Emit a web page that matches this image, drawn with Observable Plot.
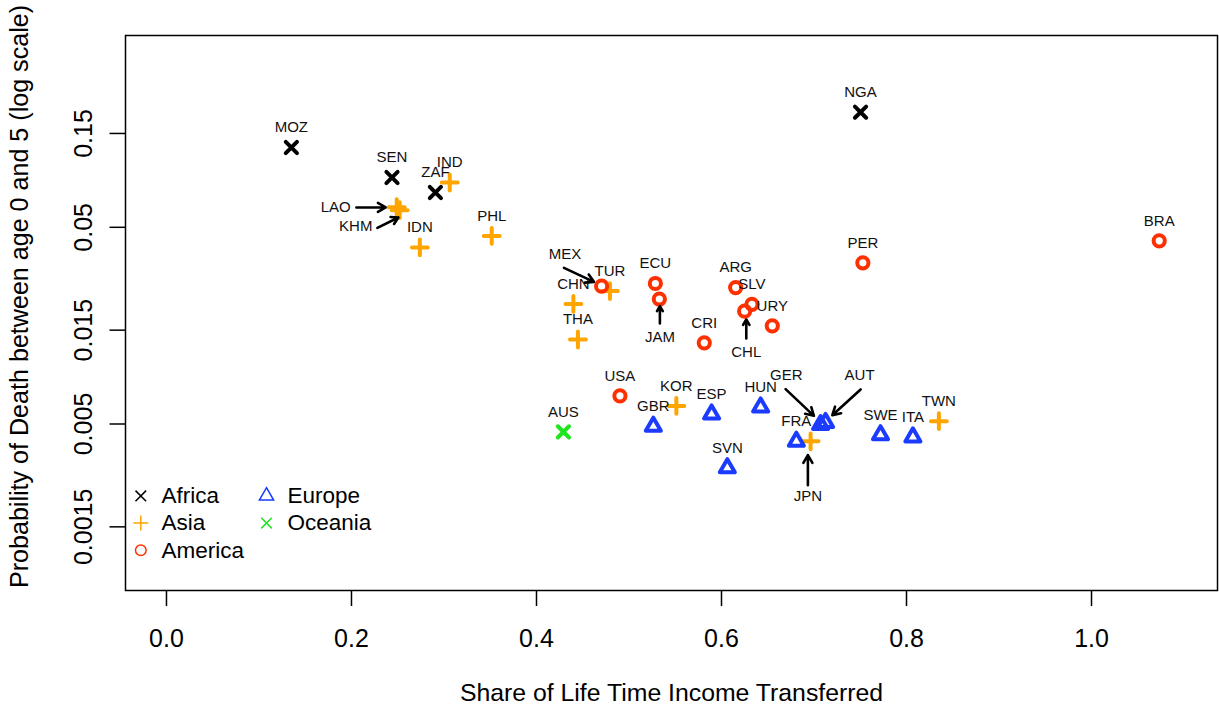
<!DOCTYPE html>
<html><head><meta charset="utf-8">
<script src="https://cdn.jsdelivr.net/npm/d3@7"></script>
<script src="https://cdn.jsdelivr.net/npm/@observablehq/plot@0.6"></script>
<style>body{margin:0;background:#fff} #chart svg{display:block}</style>
</head><body><div id="chart"></div>
<script>
// ---- data ----
const codes   = ["MOZ","SEN","ZAF","NGA","IND","LAO","KHM","IDN","PHL","CHN","TUR","THA","KOR","TWN","JPN","MEX","ECU","JAM","CRI","ARG","SLV","CHL","URY","PER","BRA","USA","GBR","ESP","HUN","SVN","FRA","GER","AUT","SWE","ITA","AUS"];
const regions = ["Africa","Africa","Africa","Africa","Asia","Asia","Asia","Asia","Asia","Asia","Asia","Asia","Asia","Asia","Asia","America","America","America","America","America","America","America","America","America","America","America","Europe","Europe","Europe","Europe","Europe","Europe","Europe","Europe","Europe","Oceania"];
const shares  = [0.135,0.2438,0.2907,0.7503,0.3062,0.2489,0.2521,0.2739,0.3516,0.4399,0.4794,0.4448,0.5512,0.8350,0.6963,0.4704,0.5285,0.5328,0.5814,0.6153,0.6329,0.6250,0.6549,0.7528,1.0732,0.4902,0.5263,0.5893,0.6423,0.6063,0.6809,0.7071,0.7125,0.7719,0.8069,0.4291];
const deaths  = [0.1273,0.0896,0.0752,0.1925,0.0845,0.0633,0.0611,0.0395,0.0452,0.0204,0.0237,0.01345,0.00618,0.00517,0.00408,0.0251,0.0259,0.0216,0.01293,0.0247,0.0203,0.01874,0.01578,0.0330,0.0427,0.00695,0.00486,0.00561,0.00609,0.00299,0.00408,0.00496,0.00508,0.00440,0.00429,0.00456];

// annotated labels with arrows (data coordinates)
const annoCodes   = ["LAO","KHM","MEX","JAM","CHL","GER","AUT","JPN"];
const annoLabelX  = [0.1829,0.2046,0.4308,0.5334,0.6268,0.6700,0.7493,0.6934];
const annoLabelY  = [0.0633,0.0507,0.0365,0.01387,0.01164,0.00883,0.00883,0.002157];
const arrowX1     = [0.2053,0.2280,0.4297,0.5334,0.6268,0.6693,0.7504,0.6934];
const arrowY1     = [0.0631,0.0497,0.0311,0.01622,0.01361,0.00752,0.00749,0.002444];
const arrowX2     = [0.2370,0.2507,0.4621,0.5334,0.6268,0.6999,0.7198,0.6934];
const arrowY2     = [0.0631,0.0561,0.0264,0.01987,0.01700,0.00550,0.00554,0.003472];

const regionNames  = ["Africa","Asia","America","Europe","Oceania"];
const regionColors = ["#000000","#ffa500","#ff3000","#1b3bff","#1ee61e"];
const xTicks = [0,0.2,0.4,0.6,0.8,1.0];
const yTicks = [0.0015,0.005,0.015,0.05,0.15];
const yTickLabels = ["0.0015","0.005","0.015","0.05","0.15"];

// ---- tables ----
const points = codes.map((c,i)=>({code:c, region:regions[i], x:shares[i], y:deaths[i]}));
const annos = annoCodes.map((c,i)=>({code:c, lx:annoLabelX[i], ly:annoLabelY[i], x1:arrowX1[i], y1:arrowY1[i], x2:arrowX2[i], y2:arrowY2[i]}));
const plainLabels = points.filter(p => !annoCodes.includes(p.code));

// ---- R-like symbols ----
const R = s => Math.sqrt(s/Math.PI);
const symTimes = {draw(ctx,s){const r=R(s);ctx.moveTo(-r,-r);ctx.lineTo(r,r);ctx.moveTo(-r,r);ctx.lineTo(r,-r);}};
const symPlus = {draw(ctx,s){const r=R(s)*Math.SQRT2;ctx.moveTo(-r,0);ctx.lineTo(r,0);ctx.moveTo(0,-r);ctx.lineTo(0,r);}};
const symCircle = {draw(ctx,s){const r=R(s);ctx.moveTo(r,0);ctx.arc(0,0,r,0,2*Math.PI);ctx.closePath();}};
const symTri = {draw(ctx,s){const r=R(s);ctx.moveTo(0,-1.5551*r);ctx.lineTo(1.3468*r,0.7776*r);ctx.lineTo(-1.3468*r,0.7776*r);ctx.closePath();}};
const regionSymbols = {Africa:symTimes, Asia:symPlus, America:symCircle, Europe:symTri, Oceania:symTimes};

const W = 1219, H = 711;
const mL = 125, mR = 2, mT = 35, mB = 121;

const marks = [];
regionNames.forEach((rg,i)=>{
  marks.push(Plot.dot(points.filter(p=>p.region===rg), {x:"x", y:"y", symbol: regionSymbols[rg], r:5.6, fill:"none", stroke: regionColors[i], strokeWidth:4, strokeLinecap:"round", strokeLinejoin:"round"}));
});
marks.push(Plot.text(plainLabels, {x:"x", y:"y", text:"code", dy:-20, fontSize:15, fill:"#111"}));
marks.push(Plot.text(annos, {x:"lx", y:"ly", text:"code", fontSize:15, fill:"#111"}));
marks.push(Plot.arrow(annos, {x1:"x1", y1:"y1", x2:"x2", y2:"y2", stroke:"black", strokeWidth:2.6, headLength:5.2, headAngle:60}));

// legend (inside bottom-left of frame)
const legendRows = [
  {name:"Africa", col:0, row:0},
  {name:"Asia", col:0, row:1},
  {name:"America", col:0, row:2},
  {name:"Europe", col:1, row:0},
  {name:"Oceania", col:1, row:1}
];
legendRows.forEach(it=>{
  const ci = regionNames.indexOf(it.name);
  const sx = it.col===0 ? 15.3 : 141;
  const tx = it.col===0 ? 36 : 162;
  const dy = -94.6 + it.row*27.2;
  marks.push(Plot.dot([0], {frameAnchor:"bottom-left", dx:sx, dy, symbol:regionSymbols[it.name], r:5.3, fill:"none", stroke:regionColors[ci], strokeWidth:1.5}));
  marks.push(Plot.text([it.name], {frameAnchor:"bottom-left", dx:tx, dy, text:d=>d, textAnchor:"start", lineAnchor:"middle", fontSize:22.5, fill:"black"}));
});

// axes
marks.push(Plot.axisX({ticks:xTicks, tickFormat:d3.format(".1f"), tickSize:16, tickPadding:23, fontSize:25, label:null, stroke:"black", strokeWidth:1.5, fill:"black"}));
marks.push(Plot.axisY({ticks:yTicks, tickFormat:()=>"", tickSize:15.5, label:null, stroke:"black", strokeWidth:1.5}));
marks.push(Plot.text(yTicks, {y:d=>d, text:(d,i)=>yTickLabels[i], frameAnchor:"left", dx:83-mL, rotate:-90, textAnchor:"middle", lineAnchor:"middle", fontSize:25, fill:"black"}));
marks.push(Plot.frame({stroke:"black", strokeWidth:1.5}));
// axis titles
marks.push(Plot.text(["Share of Life Time Income Transferred"], {frameAnchor:"bottom", dy:110, text:d=>d, fontSize:24.8, fill:"black"}));
marks.push(Plot.text(["Probability of Death between age 0 and 5 (log scale)"], {frameAnchor:"left", dx:19-mL, dy:-16.5, rotate:-90, textAnchor:"middle", lineAnchor:"middle", text:d=>d, fontSize:25.1, fill:"black"}));

const chart = Plot.plot({
  width:W, height:H,
  marginLeft:mL, marginRight:mR, marginTop:mT, marginBottom:mB,
  style:{fontFamily:"'Liberation Sans', Arial, Helvetica, sans-serif", background:"white", overflow:"visible"},
  x:{domain:[-0.0443, 1.1362]},
  y:{type:"log", domain:[0.000712, 0.4722]},
  marks
});
document.getElementById("chart").appendChild(chart);
</script>
</body></html>
